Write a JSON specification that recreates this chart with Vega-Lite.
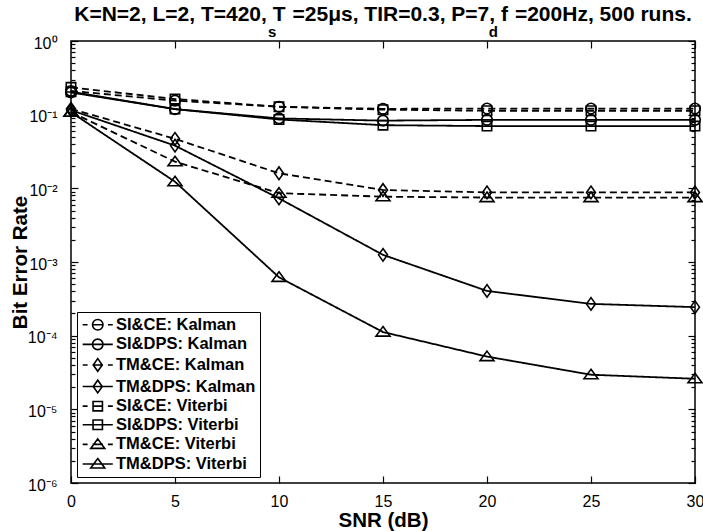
{
  "$schema": "https://vega.github.io/schema/vega-lite/v6.json",
  "autosize": "none",
  "width": 624,
  "height": 442,
  "padding": {"left": 71, "top": 41, "right": 8, "bottom": 48},
  "background": "white",
  "config": {
    "font": "Liberation Sans",
    "view": {"stroke": "black", "strokeWidth": 1.5},
    "axis": {"grid": false, "domain": false, "labelColor": "black", "titleColor": "black", "tickColor": "black", "tickWidth": 1.2, "labelFont": "Liberation Sans", "titleFont": "Liberation Sans"}
  },
  "title": {
    "text": "K=N=2, L=2, T=420, T\u2004=25\u03bcs, TIR=0.3, P=7, f\u2004=200Hz, 500 runs.",
    "subtitle": "\u2003\u2003\u2003\u2003\u2003\u2003\u2003\u2003\u2003\u2003\u2003\u2003\u2003\u2003s\u2003\u2003\u2003\u2003\u2003\u2003\u2003\u2003\u2003\u2003\u2003\u2003\u2003\u2003\u2006d\u2003\u2003\u2003\u2003\u2003\u2003\u2003\u2003\u2003\u2003\u2003\u2002\u2005",
    "font": "Liberation Sans",
    "fontSize": 21,
    "fontWeight": "bold",
    "color": "black",
    "subtitleFont": "Liberation Sans",
    "subtitleFontSize": 15,
    "subtitleFontWeight": "bold",
    "subtitleColor": "black",
    "subtitlePadding": 0,
    "anchor": "middle",
    "frame": "group",
    "offset": 0,
    "dy": 5
  },
  "data": {
    "values": [
      {"s": "SI&CE: Kalman", "x": 0, "y": 0.21},
      {"s": "SI&CE: Kalman", "x": 5, "y": 0.155},
      {"s": "SI&CE: Kalman", "x": 10, "y": 0.128},
      {"s": "SI&CE: Kalman", "x": 15, "y": 0.12},
      {"s": "SI&CE: Kalman", "x": 20, "y": 0.121},
      {"s": "SI&CE: Kalman", "x": 25, "y": 0.121},
      {"s": "SI&CE: Kalman", "x": 30, "y": 0.121},
      {"s": "SI&DPS: Kalman", "x": 0, "y": 0.2},
      {"s": "SI&DPS: Kalman", "x": 5, "y": 0.119},
      {"s": "SI&DPS: Kalman", "x": 10, "y": 0.089},
      {"s": "SI&DPS: Kalman", "x": 15, "y": 0.083},
      {"s": "SI&DPS: Kalman", "x": 20, "y": 0.085},
      {"s": "SI&DPS: Kalman", "x": 25, "y": 0.085},
      {"s": "SI&DPS: Kalman", "x": 30, "y": 0.085},
      {"s": "TM&CE: Kalman", "x": 0, "y": 0.12},
      {"s": "TM&CE: Kalman", "x": 5, "y": 0.047},
      {"s": "TM&CE: Kalman", "x": 10, "y": 0.016},
      {"s": "TM&CE: Kalman", "x": 15, "y": 0.0095},
      {"s": "TM&CE: Kalman", "x": 20, "y": 0.0088},
      {"s": "TM&CE: Kalman", "x": 25, "y": 0.0088},
      {"s": "TM&CE: Kalman", "x": 30, "y": 0.0088},
      {"s": "TM&DPS: Kalman", "x": 0, "y": 0.115},
      {"s": "TM&DPS: Kalman", "x": 5, "y": 0.038},
      {"s": "TM&DPS: Kalman", "x": 10, "y": 0.0073},
      {"s": "TM&DPS: Kalman", "x": 15, "y": 0.00125},
      {"s": "TM&DPS: Kalman", "x": 20, "y": 0.000405},
      {"s": "TM&DPS: Kalman", "x": 25, "y": 0.00027},
      {"s": "TM&DPS: Kalman", "x": 30, "y": 0.000244},
      {"s": "SI&CE: Viterbi", "x": 0, "y": 0.235},
      {"s": "SI&CE: Viterbi", "x": 5, "y": 0.163},
      {"s": "SI&CE: Viterbi", "x": 10, "y": 0.128},
      {"s": "SI&CE: Viterbi", "x": 15, "y": 0.117},
      {"s": "SI&CE: Viterbi", "x": 20, "y": 0.113},
      {"s": "SI&CE: Viterbi", "x": 25, "y": 0.113},
      {"s": "SI&CE: Viterbi", "x": 30, "y": 0.113},
      {"s": "SI&DPS: Viterbi", "x": 0, "y": 0.205},
      {"s": "SI&DPS: Viterbi", "x": 5, "y": 0.119},
      {"s": "SI&DPS: Viterbi", "x": 10, "y": 0.086},
      {"s": "SI&DPS: Viterbi", "x": 15, "y": 0.072},
      {"s": "SI&DPS: Viterbi", "x": 20, "y": 0.07},
      {"s": "SI&DPS: Viterbi", "x": 25, "y": 0.07},
      {"s": "SI&DPS: Viterbi", "x": 30, "y": 0.07},
      {"s": "TM&CE: Viterbi", "x": 0, "y": 0.108},
      {"s": "TM&CE: Viterbi", "x": 5, "y": 0.023},
      {"s": "TM&CE: Viterbi", "x": 10, "y": 0.0086},
      {"s": "TM&CE: Viterbi", "x": 15, "y": 0.0077},
      {"s": "TM&CE: Viterbi", "x": 20, "y": 0.0075},
      {"s": "TM&CE: Viterbi", "x": 25, "y": 0.0075},
      {"s": "TM&CE: Viterbi", "x": 30, "y": 0.0075},
      {"s": "TM&DPS: Viterbi", "x": 0, "y": 0.108},
      {"s": "TM&DPS: Viterbi", "x": 5, "y": 0.0123},
      {"s": "TM&DPS: Viterbi", "x": 10, "y": 0.00062},
      {"s": "TM&DPS: Viterbi", "x": 15, "y": 0.000112},
      {"s": "TM&DPS: Viterbi", "x": 20, "y": 0.000052},
      {"s": "TM&DPS: Viterbi", "x": 25, "y": 0.0000295},
      {"s": "TM&DPS: Viterbi", "x": 30, "y": 0.000026}
    ]
  },
  "resolve": {"axis": {"x": "independent", "y": "independent"}},
  "layer": [
    {
      "mark": {"type": "line", "color": "black", "strokeWidth": 1.8},
      "encoding": {
        "x": {
          "field": "x", "type": "quantitative",
          "scale": {"domain": [0, 30], "nice": false, "zero": false},
          "axis": {"orient": "bottom", "values": [0, 5, 10, 15, 20, 25, 30], "title": "SNR (dB)", "titleFontSize": 20.5, "titleFontWeight": "bold", "titlePadding": 1, "labelFontSize": 16, "labelPadding": 17, "labelFlush": false, "tickSize": -7}
        },
        "y": {
          "field": "y", "type": "quantitative",
          "scale": {"type": "log", "domain": [0.000001, 1], "nice": false},
          "axis": {
            "orient": "left",
            "values": [0.000001, 0.000002, 0.000003, 0.000004, 0.000005, 0.000006, 0.000007, 0.000008, 0.000009, 0.00001, 0.00002, 0.00003, 0.00004, 0.00005, 0.00006, 0.00007, 0.00008, 0.00009, 0.0001, 0.0002, 0.0003, 0.0004, 0.0005, 0.0006, 0.0007, 0.0008, 0.0009, 0.001, 0.002, 0.003, 0.004, 0.005, 0.006, 0.007, 0.008, 0.009, 0.01, 0.02, 0.03, 0.04, 0.05, 0.06, 0.07, 0.08, 0.09, 0.1, 0.2, 0.3, 0.4, 0.5, 0.6, 0.7, 0.8, 0.9, 1],
            "labelExpr": "abs(log(datum.value)/LN10 - round(log(datum.value)/LN10)) < 0.01 ? ['10\u207b\u2076','10\u207b\u2075','10\u207b\u2074','10\u207b\u00b3','10\u207b\u00b2','10\u207b\u00b9','10\u2070'][round(log(datum.value)/LN10)+6] : ''",
            "tickSize": {"condition": {"test": "abs(log(datum.value)/LN10 - round(log(datum.value)/LN10)) < 0.01", "value": -7}, "value": -4},
            "title": "Bit Error Rate", "titleFontSize": 20.5, "titleFontWeight": "bold", "titlePadding": -3,
            "labelFontSize": 16, "labelPadding": 21, "labelOffset": 2
          }
        },
        "detail": {"field": "s"},
        "strokeDash": {
          "field": "s", "type": "nominal", "legend": null,
          "scale": {
            "domain": ["SI&DPS: Kalman", "SI&CE: Kalman", "TM&DPS: Kalman", "TM&CE: Kalman", "SI&DPS: Viterbi", "SI&CE: Viterbi", "TM&DPS: Viterbi", "TM&CE: Viterbi"],
            "range": [[1, 0], [7, 4], [1, 0], [7, 4], [1, 0], [7, 4], [1, 0], [7, 4]]
          }
        }
      }
    },
    {
      "mark": {"type": "point", "filled": false, "strokeWidth": 1.6, "size": 196, "opacity": 1},
      "encoding": {
        "x": {
          "field": "x", "type": "quantitative",
          "axis": {"orient": "top", "values": [0, 5, 10, 15, 20, 25, 30], "labels": false, "title": null, "tickSize": -7}
        },
        "y": {
          "field": "y", "type": "quantitative",
          "axis": {
            "orient": "right",
            "values": [0.000001, 0.000002, 0.000003, 0.000004, 0.000005, 0.000006, 0.000007, 0.000008, 0.000009, 0.00001, 0.00002, 0.00003, 0.00004, 0.00005, 0.00006, 0.00007, 0.00008, 0.00009, 0.0001, 0.0002, 0.0003, 0.0004, 0.0005, 0.0006, 0.0007, 0.0008, 0.0009, 0.001, 0.002, 0.003, 0.004, 0.005, 0.006, 0.007, 0.008, 0.009, 0.01, 0.02, 0.03, 0.04, 0.05, 0.06, 0.07, 0.08, 0.09, 0.1, 0.2, 0.3, 0.4, 0.5, 0.6, 0.7, 0.8, 0.9, 1],
            "labels": false, "title": null,
            "tickSize": {"condition": {"test": "abs(log(datum.value)/LN10 - round(log(datum.value)/LN10)) < 0.01", "value": -7}, "value": -4}
          }
        },
        "shape": {
          "field": "s", "type": "nominal", "legend": null,
          "scale": {
            "domain": ["TM&DPS: Viterbi", "TM&CE: Viterbi", "SI&DPS: Viterbi", "SI&CE: Viterbi", "TM&DPS: Kalman", "TM&CE: Kalman", "SI&DPS: Kalman", "SI&CE: Kalman"],
            "range": [
              "M0,-0.78L1,0.58L-1,0.58Z",
              "M0,-0.78L1,0.58L-1,0.58Z",
              "M-0.67,-0.67H0.67V0.67H-0.67Z",
              "M-0.67,-0.67H0.67V0.67H-0.67Z",
              "M-0.64,0L0,-0.9L0.64,0L0,0.9Z",
              "M-0.64,0L0,-0.9L0.64,0L0,0.9Z",
              "M0.75,0A0.75,0.75 0 1,1 -0.75,0A0.75,0.75 0 1,1 0.75,0Z",
              "M0.75,0A0.75,0.75 0 1,1 -0.75,0A0.75,0.75 0 1,1 0.75,0Z"
            ]
          }
        },
        "stroke": {
          "field": "s", "type": "nominal",
          "scale": {
            "domain": ["SI&CE: Kalman", "SI&DPS: Kalman", "TM&CE: Kalman", "TM&DPS: Kalman", "SI&CE: Viterbi", "SI&DPS: Viterbi", "TM&CE: Viterbi", "TM&DPS: Viterbi"],
            "range": ["black", "black", "black", "black", "black", "black", "black", "black"]
          },
          "legend": {
            "title": null,
            "orient": "bottom-left",
            "offset": 6,
            "padding": 4.5,
            "rowPadding": 1.6,
            "symbolSize": 196,
            "symbolType": {"expr": "(indexof(datum.value,'CE')>0 ? 'M-2.15,0H-1.45M-0.75,0H0.75M1.45,0H2.15' : 'M-2.15,0H2.15') + (indexof(datum.value,'SI')==0 ? (indexof(datum.value,'Kalman')>0 ? 'M0.75,0A0.75,0.75 0 1,1 -0.75,0A0.75,0.75 0 1,1 0.75,0Z' : 'M-0.67,-0.67H0.67V0.67H-0.67Z') : (indexof(datum.value,'Kalman')>0 ? 'M-0.64,0L0,-0.9L0.64,0L0,0.9Z' : 'M0,-0.78L1,0.58L-1,0.58Z'))"},
            "symbolStrokeWidth": 1.6,
            "symbolFillColor": "transparent",
            "symbolOffset": 8,
            "labelOffset": 10,
            "labelFont": "Liberation Sans",
            "labelFontSize": 16.5,
            "labelFontWeight": "bold",
            "labelColor": "black",
            "labelLimit": 400,
            "strokeColor": "black",
            "fillColor": "white",
            "cornerRadius": 0
          }
        }
      }
    }
  ]
}
